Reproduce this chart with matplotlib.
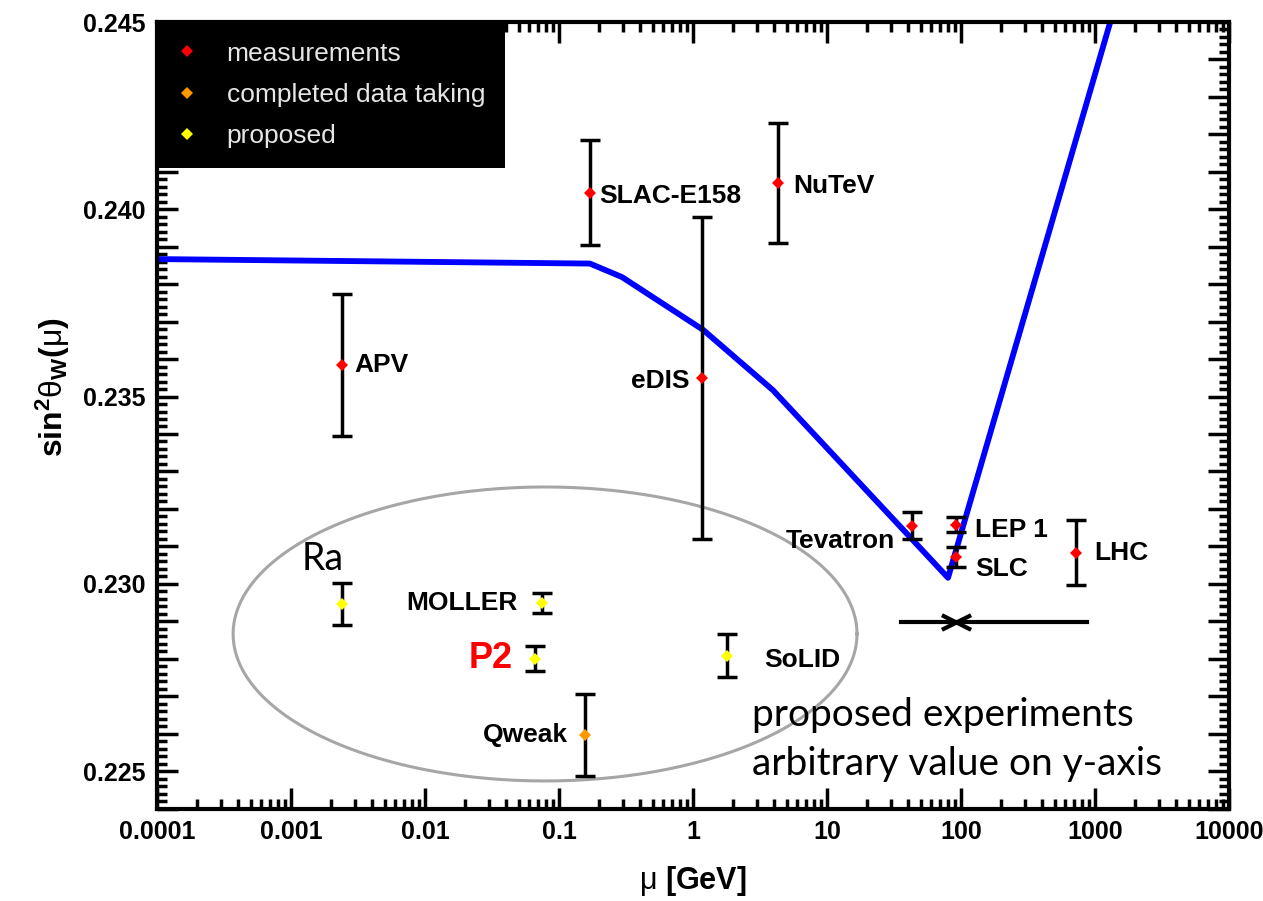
import numpy as np
import matplotlib.pyplot as plt
from matplotlib.path import Path
from matplotlib.ticker import MultipleLocator, LogLocator, NullFormatter, FuncFormatter

plt.rcParams['font.family'] = ['Liberation Sans', 'DejaVu Sans']
plt.rcParams['mathtext.fontset'] = 'custom'
plt.rcParams['mathtext.rm'] = 'Liberation Sans'
plt.rcParams['mathtext.it'] = 'Liberation Sans'
plt.rcParams['mathtext.bf'] = 'Liberation Sans:bold'

# existing measurements of sin^2 theta_W
meas_names = ['APV', 'SLAC-E158', 'eDIS', 'NuTeV', 'Tevatron', 'LEP 1', 'SLC', 'LHC']
meas_mu = [0.0024, 0.17, 1.17, 4.3, 43, 91.2, 91.2, 720]
meas_s2w = [0.23584, 0.24044, 0.23550, 0.24070, 0.23155, 0.23157, 0.23072, 0.23083]
meas_err = [0.0019, 0.0014, 0.0043, 0.0016, 0.00036, 0.0002, 0.00027, 0.00087]

# finished data taking
done_names = ['Qweak']
done_mu = [0.156]
done_s2w = [0.22597]
done_err = [0.0011]

# proposed experiments (y value arbitrary)
prop_names = ['Ra', 'MOLLER', 'P2', 'SoLID']
prop_mu = [0.0024, 0.0743, 0.066, 1.8]
prop_s2w = [0.22947, 0.22949, 0.22800, 0.22808]
prop_err = [0.00056, 0.00027, 0.00034, 0.00058]

# SM running of the mixing angle
run_mu = [1e-4, 0.17, 0.295, 1.19, 3.95, 80, 1500]
run_s2w = [0.23867, 0.23855, 0.23819, 0.23678, 0.23517, 0.23016, 0.24576]

# range marker below the Z pole
arrow_mu = [35.6, 872]
arrow_mid = 91.2
arrow_s2w = 0.22899

# ellipse around the proposed experiments (log10 centre / half width in decades)
ell_logmu, ell_halfdec = -1.104, 2.328
ell_s2w, ell_half = 0.22866, 0.003925

xtick_vals = [1e-4, 1e-3, 1e-2, 1e-1, 1, 10, 100, 1000, 10000]
xtick_labels = ['0.0001', '0.001', '0.01', '0.1', '1', '10', '100', '1000', '10000']

# label offsets in points: (dx, dy, ha)
meas_lab = [(9, 0, 'left'), (7, -2, 'left'), (-9, -2, 'right'), (11, -2, 'left'),
            (-12, -11, 'right'), (14, -3.5, 'left'), (14, -9, 'left'), (13, 0, 'left')]
done_lab = [(-12, 0, 'right')]
prop_lab = [(-29, 32, 'left'), (-17, 0, 'right'), (-16, 0, 'right'), (27, -3, 'left')]

fig = plt.figure(figsize=(12.63, 9.01), dpi=100)
ax = fig.add_axes([157 / 1263, 1 - 808.5 / 901, 1072 / 1263, 786.5 / 901])
ax.set_xscale('log')
ax.set_xlim(1e-4, 1e4)
ax.set_ylim(0.224, 0.245)

# ellipse
t = np.linspace(0, 2 * np.pi, 400)
ax.plot(10 ** (ell_logmu + ell_halfdec * np.cos(t)), ell_s2w + ell_half * np.sin(t),
        color='#a6a6a6', lw=2.2, zorder=1)

ax.plot(run_mu, run_s2w, color='#0000ff', lw=4.2, zorder=2)

ax.plot(arrow_mu, [arrow_s2w, arrow_s2w], color='black', lw=3, zorder=2)
xmark = Path([(-1, -0.5), (1, 0.5), (-1, 0.5), (1, -0.5)],
             [Path.MOVETO, Path.LINETO, Path.MOVETO, Path.LINETO])
ax.plot([arrow_mid], [arrow_s2w], marker=xmark, ms=21, mew=3, mec='black', ls='none', zorder=2)

groups = [
    (meas_names, meas_mu, meas_s2w, meas_err, meas_lab, '#ff0000', 'measurements'),
    (done_names, done_mu, done_s2w, done_err, done_lab, '#ff9900', 'completed data taking'),
    (prop_names, prop_mu, prop_s2w, prop_err, prop_lab, '#ffff00', 'proposed'),
]
for names, mu, s2w, err, labs, col, lab in groups:
    ax.errorbar(mu, s2w, yerr=err, fmt='none', ecolor='black', elinewidth=2.5,
                capsize=7, capthick=2.5, zorder=3)
    ax.plot(mu, s2w, 'D', color=col, ms=6, mew=0, zorder=4, label=lab)
    for name, x, y, (dx, dy, ha) in zip(names, mu, s2w, labs):
        if name == 'P2':
            ax.annotate(name, (x, y), xytext=(dx, dy), textcoords='offset points',
                        ha=ha, va='center', fontsize=26, fontweight='bold', color='#ff0000')
        elif name == 'Ra':
            ax.annotate(name, (x, y), xytext=(dx, dy), textcoords='offset points',
                        ha=ha, va='center', fontsize=27, family='Lato')
        else:
            ax.annotate(name, (x, y), xytext=(dx, dy), textcoords='offset points',
                        ha=ha, va='center', fontsize=19, fontweight='bold')

ax.text(0.555, 0.088, 'proposed experiments\narbitrary value on y-axis', transform=ax.transAxes,
        ha='left', va='center', fontsize=28, family='Lato', linespacing=1.45)

leg = ax.legend(loc='upper left', bbox_to_anchor=(0, 1), borderaxespad=0, fancybox=False,
                facecolor='black', edgecolor='black', framealpha=1, fontsize=19,
                labelcolor='#e6e6e6', handlelength=0.8, handletextpad=1.1,
                borderpad=0.74, labelspacing=0.66, numpoints=1)
leg.get_frame().set_linewidth(0)
leg.set_zorder(10)

# axes and ticks
ax.set_xticks(xtick_vals, xtick_labels)
ax.xaxis.set_minor_locator(LogLocator(base=10, subs=np.arange(2, 10), numticks=20))
ax.xaxis.set_minor_formatter(NullFormatter())
ax.yaxis.set_major_locator(MultipleLocator(0.001))
ax.yaxis.set_minor_locator(MultipleLocator(0.0002))
ax.yaxis.set_major_formatter(FuncFormatter(
    lambda v, p: f'{v:.3f}' if abs(v * 200 - round(v * 200)) < 1e-6 else ''))
ax.tick_params(which='both', direction='in', top=True, right=True, width=2.5)
ax.tick_params(which='major', length=15, labelsize=18, pad=8)
ax.tick_params(which='minor', length=7.5)
for lab in ax.get_xticklabels() + ax.get_yticklabels():
    lab.set_fontweight('bold')
for sp in ax.spines.values():
    sp.set_linewidth(3)

ax.set_xlabel(r'$\mu\ \mathbf{[GeV]}$', fontsize=22)
ax.xaxis.set_label_coords(0.5, -0.07)
ax.set_ylabel(r'$\mathbf{sin}^{\mathbf{2}}\theta_{\mathbf{W}}\mathbf{(}\mu\mathbf{)}$', fontsize=23)
ax.yaxis.set_label_coords(-0.079, 0.536)

fig.savefig('out.png', dpi=100)
